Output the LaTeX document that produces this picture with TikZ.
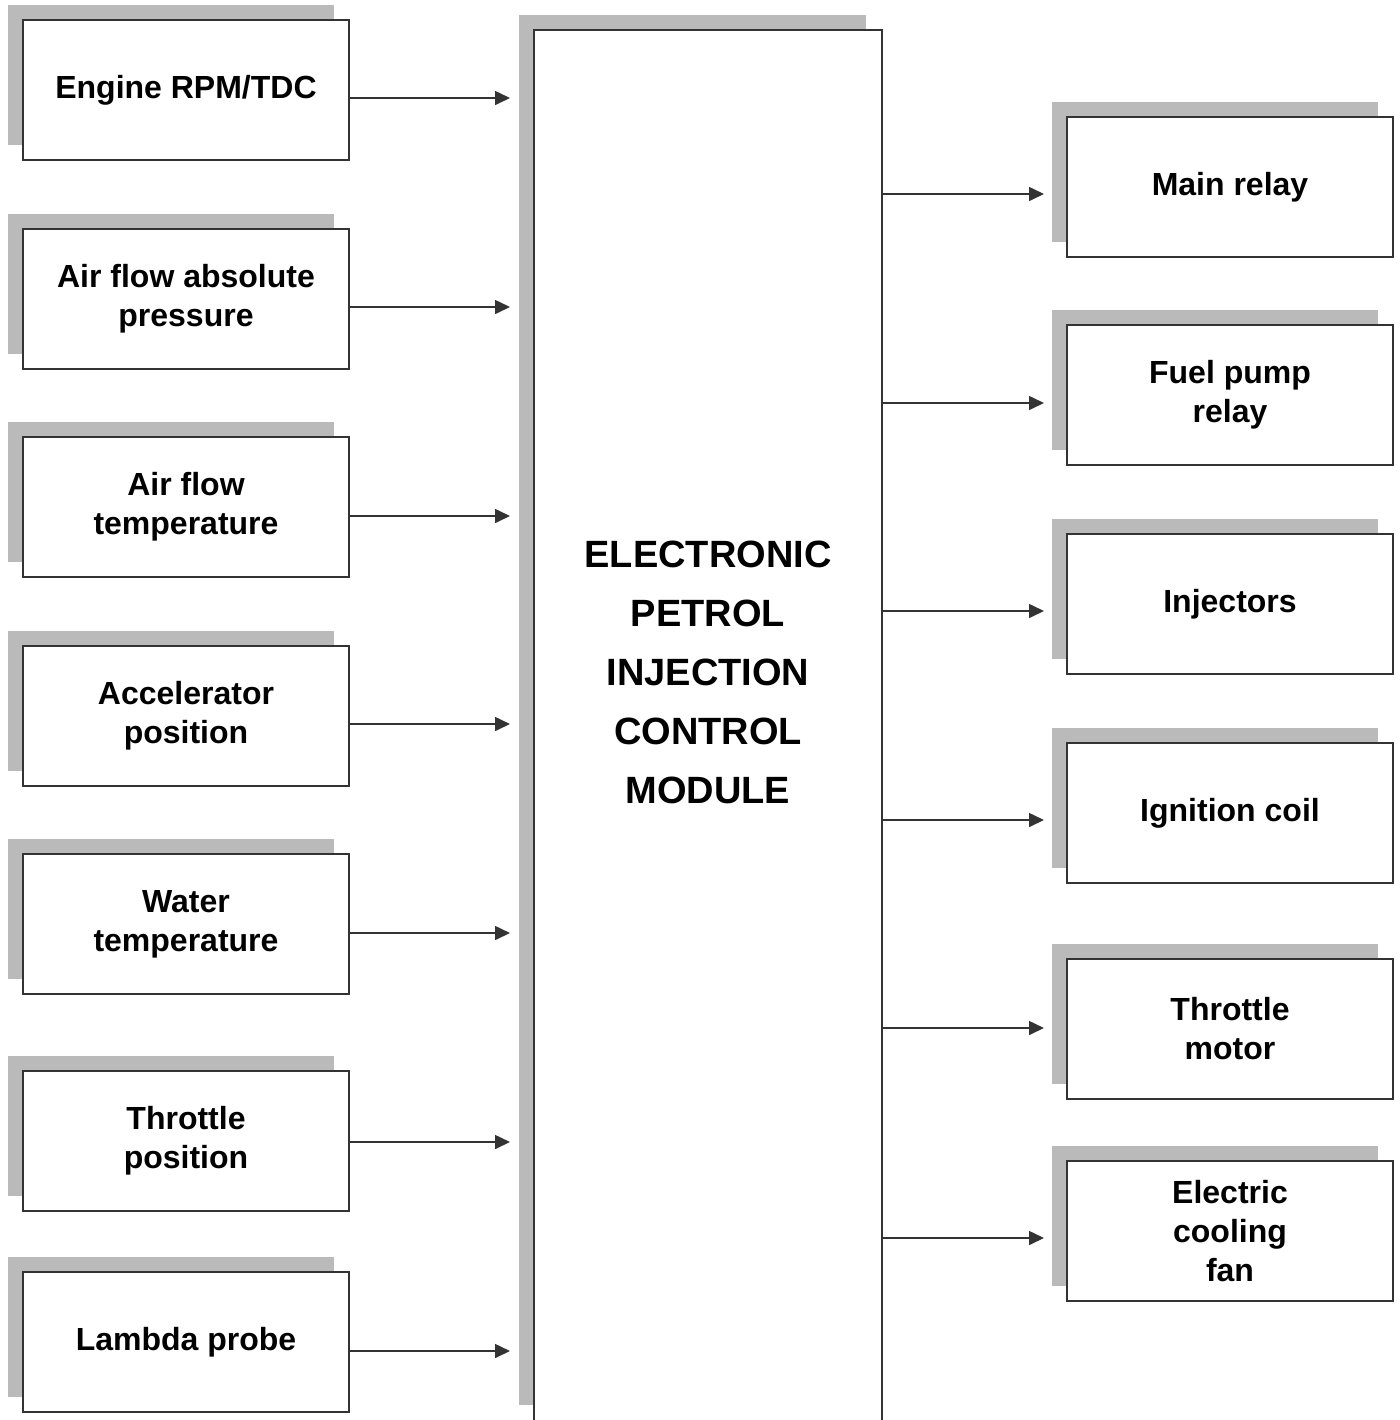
\documentclass[tikz,border=0pt]{standalone}
\usepackage{fontspec}
\setmainfont{Liberation Sans}
\usetikzlibrary{arrows.meta,shadows}
\definecolor{shadowgray}{gray}{0.73}
\definecolor{linegray}{gray}{0.2}
\tikzset{
  unit/.style={draw=linegray, line width=1pt, fill=white,
    minimum width=163pt, minimum height=70pt, align=center,
    font=\fontsize{16}{19.5}\selectfont\bfseries,
    drop shadow={shadow xshift=-7.5pt, shadow yshift=7.5pt, fill=shadowgray, opacity=1}},
  signal/.style={->, draw=linegray, line width=0.8pt},
}
\begin{document}
\begin{tikzpicture}[x=0.5pt, y=-0.5pt, >={Triangle[length=7.5pt,width=7pt]}]
\useasboundingbox (0,0) rectangle (1399,1420);
% control module
\fill[shadowgray] (519,15) rectangle (866,1405);
\node[draw=linegray, line width=1pt, fill=white, minimum width=174pt, minimum height=705pt, inner sep=0pt] (ecm) at (708,735) {};
\node[align=center, font=\fontsize{19}{29.5}\selectfont\bfseries] (ecmtext) at (708,672)
  {ELECTRONIC\\PETROL\\INJECTION\\CONTROL\\MODULE};

% sensors
\foreach \y/\a/\txt [count=\i] in {90/98/{Engine RPM/TDC}, 299/307/{Air flow absolute\\pressure},
    507/516/{Air flow\\temperature}, 716/724/{Accelerator\\position}, 924/933/{Water\\temperature},
    1141/1142/{Throttle\\position}, 1342/1351/{Lambda probe}}
{
    \node[unit] (in\i) at (186,\y) {\txt};
    \draw[signal, shorten >=11.5pt] (in\i.east |- 0,\a) -- (ecm.west |- 0,\a);
}

% actuators
\foreach \y/\a/\txt [count=\i] in {187/194/{Main relay}, 395/403/{Fuel pump\\relay},
    604/611/{Injectors}, 813/820/{Ignition coil}, 1029/1028/{Throttle\\motor},
    1231/1238/{Electric\\cooling\\fan}}
{
    \node[unit] (out\i) at (1230,\y) {\txt};
    \draw[signal, shorten >=11pt] (ecm.east |- 0,\a) -- (out\i.west |- 0,\a);
}
\end{tikzpicture}
\end{document}
